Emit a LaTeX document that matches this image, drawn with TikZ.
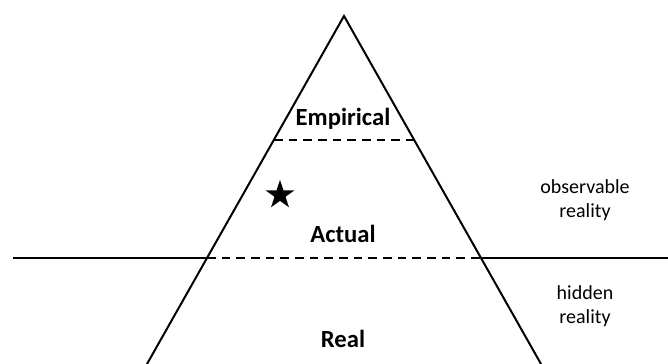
\documentclass[tikz,border=0pt]{standalone}
\usepackage{fontspec}
\setmainfont{Carlito}
\usetikzlibrary{shapes.geometric}

\tikzset{
  edge/.style={line width=1.5pt, line cap=round},
  divider/.style={line width=1.5pt, dash pattern=on 6.5pt off 4.5pt},
  layer/.style={font=\fontsize{18.5}{22}\selectfont\bfseries, anchor=base},
  side/.style={font=\fontsize{15}{18.5}\selectfont, align=center}
}

\begin{document}
\begin{tikzpicture}[x=0.75pt,y=-0.75pt]
\useasboundingbox (0,0) rectangle (668,364);
\clip (0,0) rectangle (668,364);
% --- PYRAMID ---
 % outline
  \coordinate (apex) at (344,16);
  \coordinate (footL) at (147,364);
  \coordinate (footR) at (541,364);
  \draw[edge] (footL) -- (apex) -- (footR);

  % horizon
  \coordinate (horizonL) at (13,258);
  \coordinate (horizonR) at (668,258);
  \coordinate (actualL) at (207,258);
  \coordinate (actualR) at (481,258);
  \draw[line width=1.5pt] (horizonL) -- (actualL);
  \draw[line width=1.5pt] (actualR) -- (horizonR);

  % layer borders
  \coordinate (empL) at (274,140);
  \coordinate (empR) at (414,140);
  \draw[divider] (empL) -- (empR);
  \draw[divider] (actualL) -- (actualR);

  % layers
  \node[layer] (empirical) at (343,125) {Empirical};
  \node[layer] (actual) at (343,242) {Actual};
  \node[layer] (real) at (343,347) {Real};

  % event
  \node[star, star points=5, star point ratio=2.618, fill=black, inner sep=0pt, minimum size=30.5pt*0.75] (event) at (280,195) {};

% --- SIDE NOTES ---
  \node[side] (observable) at (585,200) {observable\\reality};
  \node[side] (hidden) at (585,306) {hidden\\reality};
\end{tikzpicture}
\end{document}
